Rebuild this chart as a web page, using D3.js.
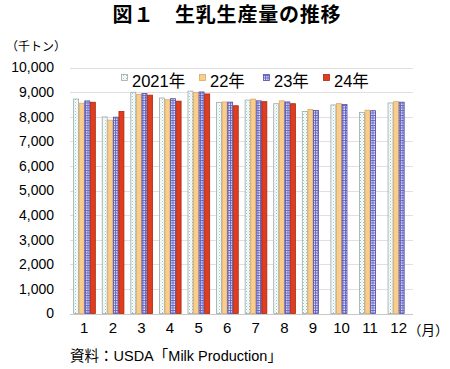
<!DOCTYPE html>
<html><head><meta charset="utf-8">
<script src="https://cdn.jsdelivr.net/npm/d3@7"></script>
<style>
html,body{margin:0;padding:0;background:#fff;}
svg{display:block;}
text{font-family:"Liberation Sans",Arial,"Noto Sans CJK JP",sans-serif;fill:#000;}
.jp{font-family:"Noto Sans CJK JP","Liberation Sans",sans-serif;}
</style></head>
<body>
<script>
const months = ["1","2","3","4","5","6","7","8","9","10","11","12"];
const seriesNames = ["2021年","22年","23年","24年"];
const y2021 = [8717, 7992, 8992, 8761, 9038, 8584, 8676, 8529, 8211, 8478, 8176, 8559];
const y2022 = [8550, 7861, 8904, 8690, 8988, 8599, 8716, 8646, 8294, 8531, 8266, 8610];
const y2023 = [8641, 7981, 8944, 8732, 9006, 8592, 8645, 8600, 8253, 8495, 8244, 8590];
const y2024 = [8588, 8209, 8876, 8632, 8924, 8445, 8611, 8528];
const yTicks = [0,1000,2000,3000,4000,5000,6000,7000,8000,9000,10000];

const W = 450, H = 369;
const m = {left:70, right:413, top:67.5, bottom:313.5};
const svg = d3.select("body").append("svg").attr("width",W).attr("height",H);

const defs = svg.append("defs");
// 2021: dotted teal
const p1 = defs.append("pattern").attr("id","p2021").attr("patternUnits","userSpaceOnUse").attr("width",3).attr("height",3);
p1.append("rect").attr("width",3).attr("height",3).attr("fill","#ffffff");
p1.append("rect").attr("x",0).attr("y",0).attr("width",1).attr("height",1).attr("fill","#86cbc5");
p1.append("rect").attr("x",1.5).attr("y",1.5).attr("width",1).attr("height",1).attr("fill","#a8dad5");
// 2023: blue grid
const p3 = defs.append("pattern").attr("id","p2023").attr("patternUnits","userSpaceOnUse").attr("width",2.5).attr("height",2.5);
p3.append("rect").attr("width",2.5).attr("height",2.5).attr("fill","#eaeaf8");
p3.append("rect").attr("x",0).attr("y",0).attr("width",2.5).attr("height",1).attr("fill","#6464c8");
p3.append("rect").attr("x",0).attr("y",0).attr("width",1).attr("height",2.5).attr("fill","#6464c8");

const styles = [
  {fill:"url(#p2021)", stroke:"#a0a8a8"},
  {fill:"#f9cd8c", stroke:"#d8aa66"},
  {fill:"url(#p2023)", stroke:"#5050a8"},
  {fill:"#e03c1e", stroke:"#a8280e"}
];
const series = [y2021, y2022, y2023, y2024];

const x0 = d3.scaleBand().domain(months).range([m.left, m.right]).paddingInner(0.22).paddingOuter(0.11);
const x1 = d3.scaleBand().domain(d3.range(4)).range([0, x0.bandwidth()]);
const y = d3.scaleLinear().domain([0,10000]).range([m.bottom, m.top]);

// title
svg.append("text").attr("class","jp").attr("x",227).attr("y",22).attr("text-anchor","middle")
  .attr("font-size",20).attr("font-weight","bold").attr("letter-spacing",0.8).text("図１　生乳生産量の推移");
// unit
svg.append("text").attr("class","jp").attr("x",6).attr("y",51).attr("font-size",12).text("（千トン）");

// gridlines
svg.append("g").selectAll("line").data(yTicks).join("line")
  .attr("x1",m.left).attr("x2",m.right)
  .attr("y1",d=>Math.round(y(d))+0.5).attr("y2",d=>Math.round(y(d))+0.5)
  .attr("stroke",d=>d===0?"#c8c8c8":"#e0e0e0").attr("stroke-width",1);

// y axis labels
const ya = svg.append("g").attr("transform",`translate(${m.left-16},0)`)
  .call(d3.axisLeft(y).tickValues(yTicks).tickSize(0).tickPadding(0).tickFormat(d3.format(",")));
ya.select(".domain").remove();
ya.selectAll("text").attr("font-size",14).attr("font-family","'Liberation Sans',Arial,sans-serif").attr("fill","#000");

// bars
const g = svg.append("g");
series.forEach((vals, si) => {
  g.append("g").selectAll("rect").data(vals).join("rect")
    .attr("x",(d,i)=>x0(months[i]) + x1(si) + 0.5)
    .attr("y",d=>y(d))
    .attr("width",x1.bandwidth()-0.6)
    .attr("height",d=>y(0)-y(d))
    .attr("fill",styles[si].fill)
    .attr("stroke",styles[si].stroke)
    .attr("stroke-width",0.8);
});

// x axis labels
const xa = svg.append("g").attr("transform",`translate(0,${m.bottom+9})`)
  .call(d3.axisBottom(x0).tickSize(0).tickPadding(0));
xa.select(".domain").remove();
xa.selectAll("text").attr("font-size",15).attr("font-family","'Liberation Sans',Arial,sans-serif").attr("fill","#000").attr("dy","0.71em");
svg.append("text").attr("class","jp").attr("x",408).attr("y",335).attr("font-size",13.5).text("（月）");

// legend
const legX = [121, 199, 263, 323];
const leg = svg.append("g");
seriesNames.forEach((n, i) => {
  leg.append("rect").attr("x",legX[i]+0.5).attr("y",74.5).attr("width",6).attr("height",6)
    .attr("fill",styles[i].fill).attr("stroke",styles[i].stroke).attr("stroke-width",0.8);
  leg.append("text").attr("x",legX[i]+11).attr("y",86.5).attr("font-size",16.5).text(n);
});

// source
const src = svg.append("text").attr("x",70).attr("y",361).attr("font-size",14.5);
src.append("tspan").attr("font-family","'Noto Sans CJK JP',sans-serif").text("資料：");
src.append("tspan").attr("font-family","'Liberation Sans',Arial,sans-serif").text("USDA");
src.append("tspan").attr("font-family","'Noto Sans CJK JP',sans-serif").text("「");
src.append("tspan").attr("font-family","'Liberation Sans',Arial,sans-serif").text("Milk Production");
src.append("tspan").attr("font-family","'Noto Sans CJK JP',sans-serif").text("」");
</script>
</body></html>
